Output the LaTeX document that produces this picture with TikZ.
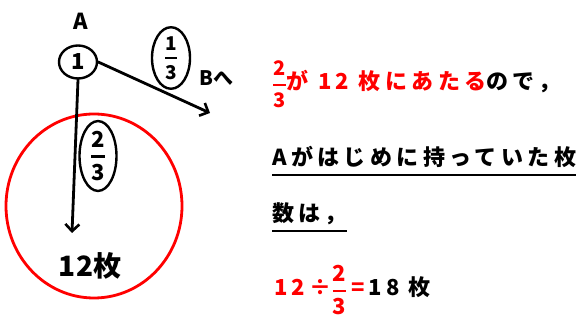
\documentclass[tikz,border=0pt]{standalone}
\usepackage{amsmath}
\usepackage{fontspec}
\usetikzlibrary{arrows.meta,shapes.geometric}
\setmainfont{Noto Sans CJK JP}
\newfontfamily\jp[LetterSpace=20]{Noto Sans CJK JP}
\newfontfamily\jpn{Noto Sans CJK JP}
\definecolor{hred}{RGB}{255,0,0}
\newcommand{\myfrac}[2]{\ensuremath{\genfrac{}{}{2.2pt}{0}{\hbox{\jpn\bfseries #1}}{\hbox{\jpn\bfseries #2}}}}
\tikzset{
  ink/.style={line width=2.8pt, line cap=round, line join=round},
  oval/.style={ellipse, draw, line width=2.4pt, inner sep=0pt},
  lbl/.style={font=\fontsize{#1}{#1}\selectfont\jpn\bfseries},
  body/.style={anchor=base west, inner sep=0pt, font=\fontsize{22}{22}\selectfont\jp\bfseries},
  barb/.style={-{Straight Barb[length=7pt,width=14pt,line width=2.6pt]}}
}
\begin{document}
\begin{tikzpicture}[x=1pt,y=-1pt]
\useasboundingbox[fill=white] (0,0) rectangle (579,320);
% left diagram
\node[lbl=22] (A) at (81,21) {A};
\node[oval, minimum width=38pt, minimum height=33pt, lbl=22] (one) at (78,62) {1};
\node[ellipse, draw=hred, line width=2.8pt, minimum width=176pt, minimum height=184pt] (red) at (94,206) {};
\node[lbl=28] (twelve) at (90,266) {12枚};
\coordinate (dn) at (72,233);
\coordinate (rt) at (210,113);
\draw[ink, barb] (one.south) -- (dn);
\draw[ink, barb] (one.east) -- (rt);
\node[oval, minimum width=37pt, minimum height=62pt, font=\fontsize{22}{22}\selectfont] (f23) at (98,156) {\myfrac{2}{3}};
\node[oval, minimum width=38pt, minimum height=50pt, font=\fontsize{19}{19}\selectfont] (f13) at (171,58) {\myfrac{1}{3}};
\node[lbl=20, anchor=west] (B) at (196,78) {Bへ};
% right text
\node[body] (l1) at (272,90) {\color{hred}{\fontsize{20}{20}\selectfont\myfrac{2}{3}}が 12 枚にあたる\color{black}ので，};
\node[body] (l2) at (272,166) {Aがはじめに持っていた枚};
\node[body] (l3) at (272,222) {数は，};
\node[body] (l4) at (274,296) {\color{hred}12÷{\fontsize{22}{22}\selectfont\myfrac{2}{3}}\,=\,\color{black}18 枚};
\draw[line width=2.6pt] (l2.base west) ++(0,9) -- ([yshift=-9pt]l2.base east);
\draw[line width=2.6pt] (l3.base west) ++(0,9) -- ([yshift=-9pt]l3.base east);
\end{tikzpicture}
\end{document}
